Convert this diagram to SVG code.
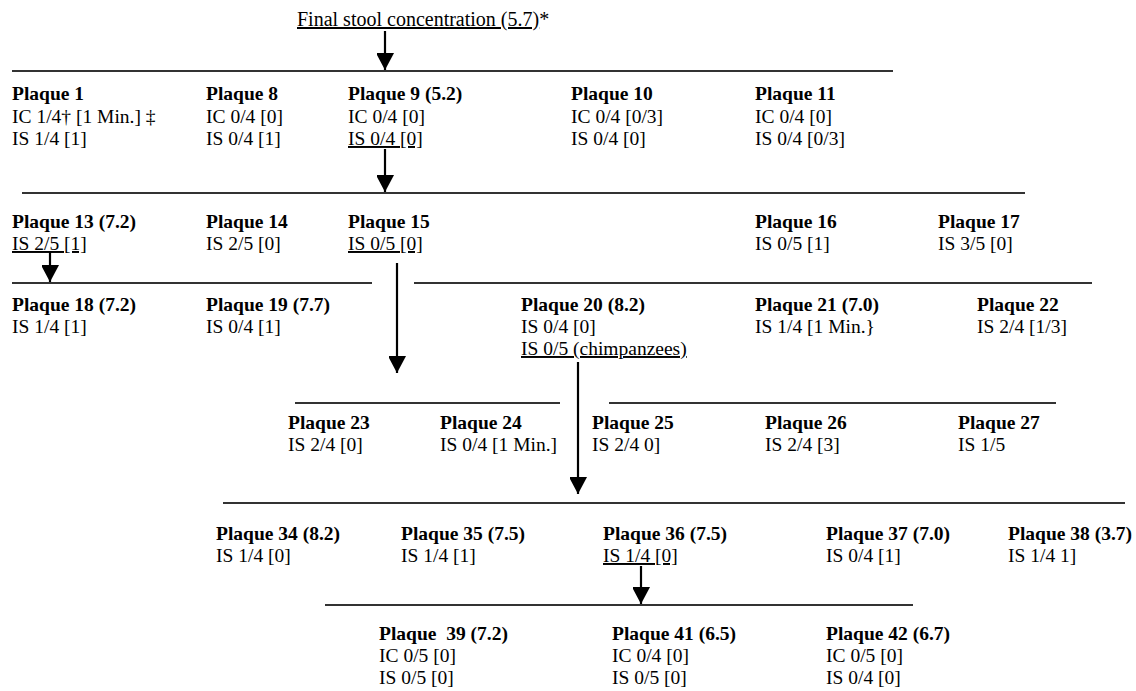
<svg xmlns="http://www.w3.org/2000/svg" width="1136" height="691" viewBox="0 0 1136 691">
<defs>
<marker id="ah" viewBox="0 0 18 17" refX="17" refY="9" markerWidth="18" markerHeight="17" markerUnits="userSpaceOnUse" orient="auto">
<path d="M0,0 L17,9 L0,18 Z" fill="#000"/>
</marker>
<style>
text{font-family:"Liberation Serif","Times New Roman",serif;font-size:19.5px;fill:#000}
.b{font-weight:bold}
.u{text-decoration:underline}
.t{font-size:20px}
.hl{stroke:#333;stroke-width:1.8;fill:none}
.ar{stroke:#000;stroke-width:2.2;fill:none;marker-end:url(#ah)}
</style>
</defs>
<rect width="1136" height="691" fill="#fff"/>
<g id="title"><text x="297" y="26" class="t"><tspan class="u">Final stool concentration (5.7)</tspan>*</text></g>
<g id="connectors">
<line class="hl" x1="12" y1="71" x2="893" y2="71"/>
<line class="hl" x1="22" y1="193" x2="1025" y2="193"/>
<line class="hl" x1="12" y1="283" x2="372" y2="283"/>
<line class="hl" x1="414" y1="283" x2="1092" y2="283"/>
<line class="hl" x1="295" y1="403" x2="560" y2="403"/>
<line class="hl" x1="609" y1="403" x2="1056" y2="403"/>
<line class="hl" x1="223" y1="503" x2="1125" y2="503"/>
<line class="hl" x1="325" y1="605" x2="913" y2="605"/>
<line class="ar" x1="385" y1="31" x2="385" y2="70"/>
<line class="ar" x1="385" y1="149" x2="385" y2="192"/>
<line class="ar" x1="50" y1="252" x2="50" y2="282"/>
<line class="ar" x1="397" y1="263" x2="397" y2="373"/>
<line class="ar" x1="578" y1="362" x2="578" y2="494"/>
<line class="ar" x1="641" y1="566" x2="641" y2="604"/>
</g>
<g id="p1"><text x="12" y="100" class="b">Plaque 1</text><text x="12" y="123">IC 1/4† [1 Min.] ‡</text><text x="12" y="145">IS 1/4 [1]</text></g>
<g id="p8"><text x="206" y="100" class="b">Plaque 8</text><text x="206" y="123">IC 0/4 [0]</text><text x="206" y="145">IS 0/4 [1]</text></g>
<g id="p9"><text x="348" y="100" class="b">Plaque 9 (5.2)</text><text x="348" y="123">IC 0/4 [0]</text><text x="348" y="145" class="u">IS 0/4 [0]</text></g>
<g id="p10"><text x="571" y="100" class="b">Plaque 10</text><text x="571" y="123">IC 0/4 [0/3]</text><text x="571" y="145">IS 0/4 [0]</text></g>
<g id="p11"><text x="755" y="100" class="b">Plaque 11</text><text x="755" y="123">IC 0/4 [0]</text><text x="755" y="145">IS 0/4 [0/3]</text></g>
<g id="p13"><text x="12" y="228" class="b">Plaque 13 (7.2)</text><text x="12" y="250" class="u">IS 2/5 [1]</text></g>
<g id="p14"><text x="206" y="228" class="b">Plaque 14</text><text x="206" y="250">IS 2/5 [0]</text></g>
<g id="p15"><text x="348" y="228" class="b">Plaque 15</text><text x="348" y="250" class="u">IS 0/5 [0]</text></g>
<g id="p16"><text x="755" y="228" class="b">Plaque 16</text><text x="755" y="250">IS 0/5 [1]</text></g>
<g id="p17"><text x="938" y="228" class="b">Plaque 17</text><text x="938" y="250">IS 3/5 [0]</text></g>
<g id="p18"><text x="12" y="311" class="b">Plaque 18 (7.2)</text><text x="12" y="333">IS 1/4 [1]</text></g>
<g id="p19"><text x="206" y="311" class="b">Plaque 19 (7.7)</text><text x="206" y="333">IS 0/4 [1]</text></g>
<g id="p20"><text x="521" y="311" class="b">Plaque 20 (8.2)</text><text x="521" y="333">IS 0/4 [0]</text><text x="521" y="355" class="u">IS 0/5 (chimpanzees)</text></g>
<g id="p21"><text x="755" y="311" class="b">Plaque 21 (7.0)</text><text x="755" y="333">IS 1/4 [1 Min.}</text></g>
<g id="p22"><text x="977" y="311" class="b">Plaque 22</text><text x="977" y="333">IS 2/4 [1/3]</text></g>
<g id="p23"><text x="288" y="429" class="b">Plaque 23</text><text x="288" y="451">IS 2/4 [0]</text></g>
<g id="p24"><text x="440" y="429" class="b">Plaque 24</text><text x="440" y="451">IS 0/4 [1 Min.]</text></g>
<g id="p25"><text x="592" y="429" class="b">Plaque 25</text><text x="592" y="451">IS 2/4 0]</text></g>
<g id="p26"><text x="765" y="429" class="b">Plaque 26</text><text x="765" y="451">IS 2/4 [3]</text></g>
<g id="p27"><text x="958" y="429" class="b">Plaque 27</text><text x="958" y="451">IS 1/5</text></g>
<g id="p34"><text x="216" y="540" class="b">Plaque 34 (8.2)</text><text x="216" y="562">IS 1/4 [0]</text></g>
<g id="p35"><text x="401" y="540" class="b">Plaque 35 (7.5)</text><text x="401" y="562">IS 1/4 [1]</text></g>
<g id="p36"><text x="603" y="540" class="b">Plaque 36 (7.5)</text><text x="603" y="562" class="u">IS 1/4 [0]</text></g>
<g id="p37"><text x="826" y="540" class="b">Plaque 37 (7.0)</text><text x="826" y="562">IS 0/4 [1]</text></g>
<g id="p38"><text x="1008" y="540" class="b">Plaque 38 (3.7)</text><text x="1008" y="562">IS 1/4 1]</text></g>
<g id="p39"><text x="379" y="640" class="b" xml:space="preserve">Plaque  39 (7.2)</text><text x="379" y="662">IC 0/5 [0]</text><text x="379" y="684">IS 0/5 [0]</text></g>
<g id="p41"><text x="612" y="640" class="b">Plaque 41 (6.5)</text><text x="612" y="662">IC 0/4 [0]</text><text x="612" y="684">IS 0/5 [0]</text></g>
<g id="p42"><text x="826" y="640" class="b">Plaque 42 (6.7)</text><text x="826" y="662">IC 0/5 [0]</text><text x="826" y="684">IS 0/4 [0]</text></g>
</svg>
